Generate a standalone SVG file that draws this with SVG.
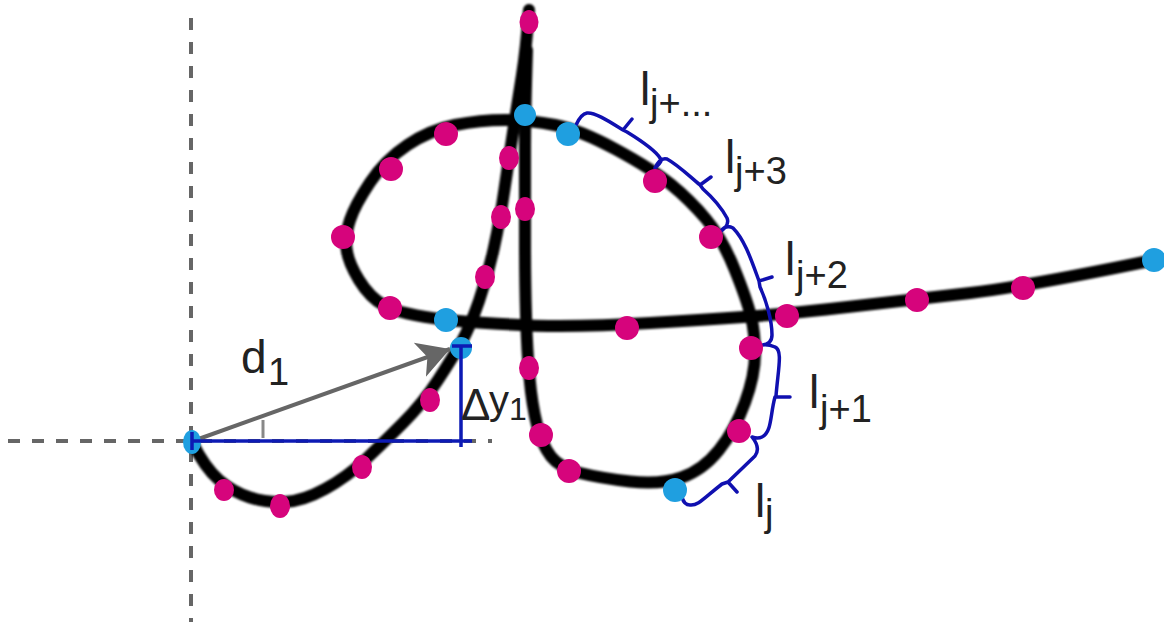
<svg xmlns="http://www.w3.org/2000/svg" width="1164" height="622" viewBox="0 0 1164 622">
<defs>
<style>
.curve{fill:none;stroke:#000;stroke-width:12;stroke-linecap:round;stroke-linejoin:round}
.axis{fill:none;stroke:#666;stroke-width:4;stroke-dasharray:12 12}
.brace{fill:none;stroke:#1010b0;stroke-width:3.500;stroke-linecap:round;stroke-linejoin:round}
.blue{fill:none;stroke:#0d1ab4;stroke-width:3.500}
.m{fill:#d6047c}
.c{fill:#1f9fe0}
text{font-family:"Liberation Sans",Arial,sans-serif;fill:#222}
.l{font-size:46px}
.s{font-size:38px}
</style>
<filter id="soft" x="-5%" y="-5%" width="110%" height="110%"><feGaussianBlur stdDeviation="0.9"/></filter>
<marker id="ah" markerUnits="userSpaceOnUse" markerWidth="34" markerHeight="40" refX="32" refY="20" orient="auto">
<path d="M0 2 L32 20 L0 38 L8 20 Z" fill="#666"/>
</marker>
</defs>
<g id="axes">
<path class="axis" d="M191 18V622"/>
<path class="axis" d="M8 441H492"/>
</g>
<g id="connectors">
<g filter="url(#soft)">
<path class="curve" d="M192 442Q205 468 219 480Q233 492 250 497.500Q267 503 285 502Q303 501 325 489Q347 477 365 460Q383 443 403 423Q423 403 438 380Q453 357 461.500 342Q470 327 479 301Q488 275 494 247.500Q500 220 504.500 189Q509 158 513.500 129Q518 100 522 75Q526 50 529 10"/>
<path class="curve" d="M446 320Q400 314 385 306Q370 298 359 280Q348 262 346.500 248.500Q345 235 350 220Q355 205 370 182.500Q385 160 407.500 145Q430 130 455 125Q480 120 505 120Q530 120 555 125Q580 130 616 149.500Q652 169 671 184.500Q690 200 706 219Q722 238 734.500 269Q747 300 751 316.500Q755 333 755 354Q755 375 745 402.500Q735 430 719 450Q703 470 681.500 477.500Q660 485 630 481.500Q600 478 580 473Q560 468 551 456.500Q542 445 537 425Q532 405 529.500 377.500Q527 350 526 315Q525 280 525 240Q525 200 525 155Q525 110 527 50"/>
<path class="curve" d="M446 320Q520 326 560 326Q600 326 650 323Q700 320 743 317Q787 314 852 306.500Q917 299 970 293Q1023 287 1154 260"/>
</g>
<path d="M193 441L450 349" fill="none" stroke="#666" stroke-width="4" marker-end="url(#ah)"/>
<path d="M263 420V438" fill="none" stroke="#888" stroke-width="3"/>
<path class="brace" d="M682 497Q684 505 690 505C698 506 704 498 722 484L728 482L737 492M728 482L755 456Q761 448 752 437Q758 439 762 437C772 432 770 415 775 397H790M776 396C778 370 783 350 775 347Q768 344 762 345Q772 344 772 335C772 320 766 300 760 287L759 281L772 277M759 281C752 262 745 240 733 228Q726 224 720 232Q730 225 727 218C720 205 712 197 703 189L700 185L711 177M700 185C688 175 678 165 667 159Q660 157 655 168Q664 160 660 158C655 150 640 140 627 132L623 130L632 119M623 130C610 122 595 112 587 113Q581 114 576 125"/>
</g>
<g id="nodes">
<g id="m1"><ellipse class="m" cx="529" cy="22" rx="9.500" ry="12"/></g>
<g id="m2"><circle class="m" cx="446" cy="134" r="12"/></g>
<g id="m3"><circle class="m" cx="391" cy="169" r="12"/></g>
<g id="m4"><circle class="m" cx="343" cy="237" r="12"/></g>
<g id="m5"><circle class="m" cx="390" cy="308" r="12"/></g>
<g id="m6"><ellipse class="m" cx="509" cy="158" rx="10" ry="12"/></g>
<g id="m7"><ellipse class="m" cx="501" cy="217" rx="10" ry="12"/></g>
<g id="m8"><ellipse class="m" cx="525" cy="209" rx="10" ry="12"/></g>
<g id="m9"><ellipse class="m" cx="485" cy="277" rx="10" ry="12"/></g>
<g id="m10"><ellipse class="m" cx="430" cy="400" rx="10" ry="12"/></g>
<g id="m11"><ellipse class="m" cx="362" cy="467" rx="10" ry="12"/></g>
<g id="m12"><ellipse class="m" cx="280" cy="506" rx="10" ry="12"/></g>
<g id="m13"><ellipse class="m" cx="224" cy="490" rx="10" ry="11"/></g>
<g id="m14"><ellipse class="m" cx="529" cy="368" rx="10" ry="12"/></g>
<g id="m15"><circle class="m" cx="541" cy="435" r="12"/></g>
<g id="m16"><circle class="m" cx="569" cy="471" r="12"/></g>
<g id="m17"><circle class="m" cx="655" cy="181" r="12"/></g>
<g id="m18"><circle class="m" cx="711" cy="237" r="12"/></g>
<g id="m19"><circle class="m" cx="751" cy="348" r="12"/></g>
<g id="m20"><circle class="m" cx="739" cy="431" r="12"/></g>
<g id="m21"><circle class="m" cx="627" cy="328" r="12"/></g>
<g id="m22"><circle class="m" cx="787" cy="316" r="12"/></g>
<g id="m23"><circle class="m" cx="917" cy="300" r="12"/></g>
<g id="m24"><circle class="m" cx="1023" cy="288" r="12"/></g>
<g id="c1"><circle class="c" cx="525" cy="115" r="11"/></g>
<g id="c2"><circle class="c" cx="568" cy="134" r="12"/></g>
<g id="c3"><circle class="c" cx="446" cy="320" r="12"/></g>
<g id="c4"><circle class="c" cx="461" cy="348" r="11"/></g>
<g id="c5"><ellipse class="c" cx="192" cy="442" rx="9" ry="12"/></g>
<g id="c6"><circle class="c" cx="675" cy="490" r="12"/></g>
<g id="c7"><circle class="c" cx="1154" cy="260" r="12"/></g>
</g>
<g id="measure">
<path class="blue" d="M191 441H472M461 346V447M452 346H472M192 432V450"/>
</g>
<g id="labels">
<text class="l" x="241" y="373">d</text><text class="s" x="268" y="385">1</text>
<text class="l" x="461" y="420" style="font-size:44px">Δ</text><text class="l" x="489" y="414" style="font-size:40px">y</text><text class="s" x="509" y="420" style="font-size:32px">1</text>
<text class="l" x="640" y="105">l</text><text class="s" x="650" y="116">j+...</text>
<text class="l" x="725" y="173">l</text><text class="s" x="735" y="184">j+3</text>
<text class="l" x="785" y="275">l</text><text class="s" x="796" y="288">j+2</text>
<text class="l" x="809" y="408">l</text><text class="s" x="820" y="422">j+1</text>
<text class="l" x="755" y="517">l</text><text class="s" x="765" y="526">j</text>
</g>
</svg>
